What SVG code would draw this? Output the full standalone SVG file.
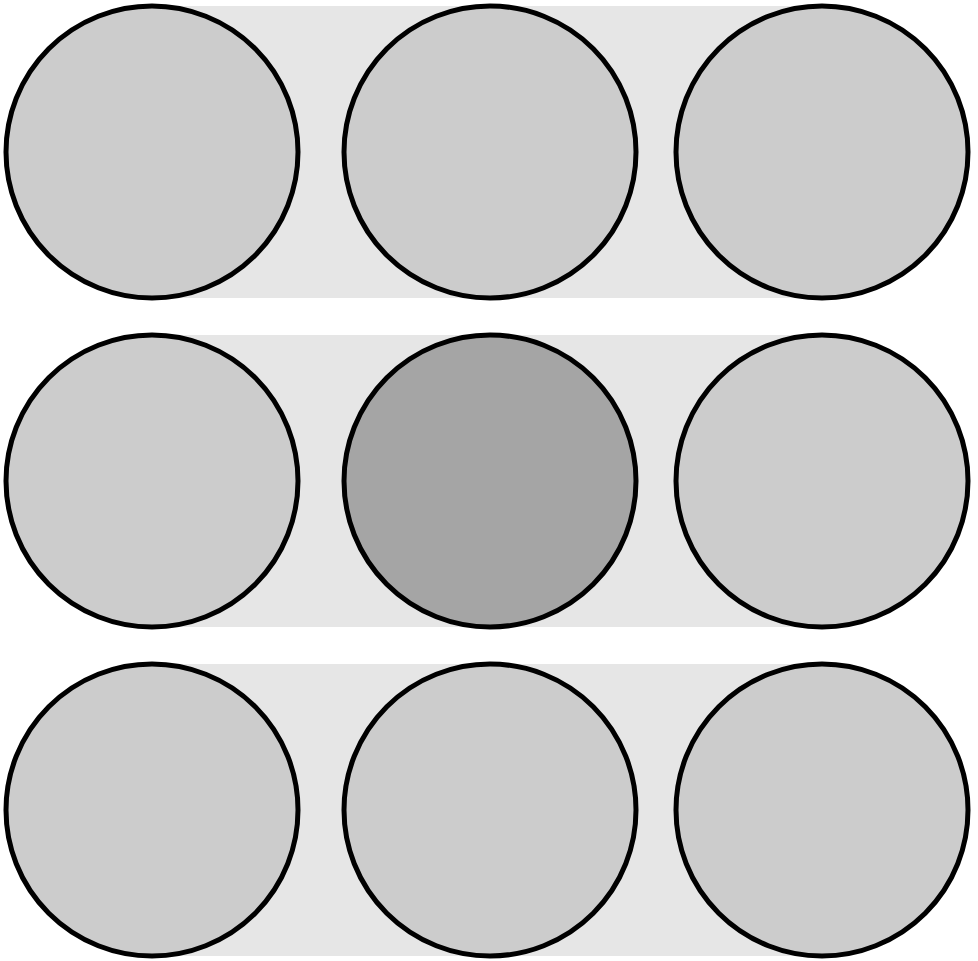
<svg xmlns="http://www.w3.org/2000/svg" width="978" height="961" viewBox="0 0 978 961">
<style>
.band{fill:#e6e6e6;stroke:none}
.c{fill:#cccccc;stroke:#000;stroke-width:5}
.hi{fill:#a5a5a5}
</style>
<rect width="978" height="961" fill="#fff"/>
<g id="bands">
<rect class="band" x="152" y="6" width="670" height="292"/>
<rect class="band" x="152" y="335" width="670" height="292"/>
<rect class="band" x="152" y="664" width="670" height="292"/>
</g>
<g id="connectors"></g>
<g id="n11"><circle class="c" cx="152" cy="152" r="146"/></g>
<g id="n12"><circle class="c" cx="490" cy="152" r="146"/></g>
<g id="n13"><circle class="c" cx="822" cy="152" r="146"/></g>
<g id="n21"><circle class="c" cx="152" cy="481" r="146"/></g>
<g id="n22"><circle class="c hi" cx="490" cy="481" r="146"/></g>
<g id="n23"><circle class="c" cx="822" cy="481" r="146"/></g>
<g id="n31"><circle class="c" cx="152" cy="810" r="146"/></g>
<g id="n32"><circle class="c" cx="490" cy="810" r="146"/></g>
<g id="n33"><circle class="c" cx="822" cy="810" r="146"/></g>
</svg>
